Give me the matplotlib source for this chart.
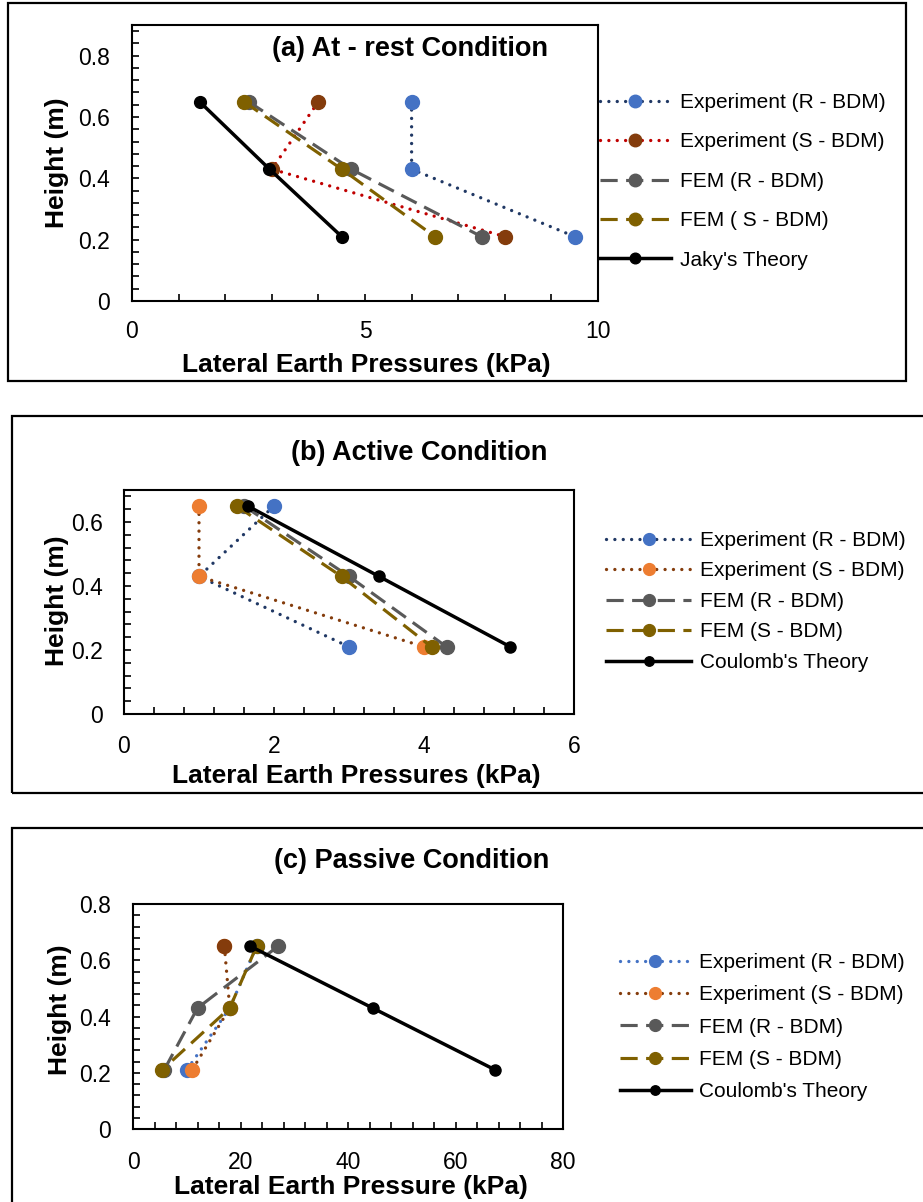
import numpy as np
import matplotlib.pyplot as plt
from matplotlib.patches import Rectangle
from matplotlib.ticker import MultipleLocator

plt.rcParams['font.family'] = ['Liberation Sans', 'DejaVu Sans']

# heights of the three measuring points (m)
height = [0.65, 0.43, 0.21]

# (a) at-rest condition, kPa
a_exp_r = [6.0, 6.0, 9.5]
a_exp_s = [4.0, 3.0, 8.0]
a_fem_r = [2.5, 4.7, 7.5]
a_fem_s = [2.4, 4.5, 6.5]
a_jaky = [1.45, 2.95, 4.5]

# (b) active condition, kPa
b_exp_r = [2.0, 1.0, 3.0]
b_exp_s = [1.0, 1.0, 4.0]
b_fem_r = [1.6, 3.0, 4.3]
b_fem_s = [1.5, 2.9, 4.1]
b_coulomb = [1.65, 3.4, 5.15]

# (c) passive condition, kPa
c_exp_r = [23.0, 18.0, 10.0]
c_exp_s = [17.0, 18.0, 11.0]
c_fem_r = [27.0, 12.0, 5.8]
c_fem_s = [23.0, 18.0, 5.4]
c_coulomb = [21.8, 44.6, 67.4]

W, H = 923, 1202
fig = plt.figure(figsize=(W / 100, H / 100), dpi=100)

BLUE = '#4472C4'
NAVY = '#203864'
RED = '#C00000'
BROWN = '#843C0C'
ORANGE = '#ED7D31'
GRAY = '#595959'
OLIVE = '#7F6000'

DOT = (0, (0.01, 2.5))
DASH = (0, (5.5, 2.7))


def axes_px(x0, y0, x1, y1):
    return fig.add_axes([x0 / W, 1 - y1 / H, (x1 - x0) / W, (y1 - y0) / H])


def frame_px(x0, y0, x1, y1):
    fig.add_artist(Rectangle((x0 / W, 1 - y1 / H), (x1 - x0) / W, (y1 - y0) / H,
                             transform=fig.transFigure, fill=False,
                             lw=1.6, ec='black'))


def style(ax, xmax, xmaj, ymax, xl, yl, label_xy, ylabel_xy, xlabel, box):
    x0, y0, x1, y1 = box
    ax.set_xlim(0, xmax)
    ax.set_ylim(0, ymax)
    ax.xaxis.set_major_locator(MultipleLocator(xmaj))
    ax.xaxis.set_minor_locator(MultipleLocator(xmaj / 5))
    ax.yaxis.set_major_locator(MultipleLocator(0.2))
    ax.yaxis.set_minor_locator(MultipleLocator(0.04))
    ax.tick_params(which='both', direction='in', length=5, width=1.2,
                   top=False, right=False, labelsize=16.5)
    ax.tick_params(axis='x', pad=xl)
    ax.tick_params(axis='y', pad=yl)
    ax.yaxis.set_major_formatter(lambda v, p: '0' if abs(v) < 1e-9 else f'{v:.1f}')
    for s in ax.spines.values():
        s.set_linewidth(1.5)
    ax.set_xlabel(xlabel, fontsize=19, fontweight='bold')
    ax.set_ylabel('Height (m)', fontsize=19, fontweight='bold')
    lx, ly = label_xy
    ax.xaxis.set_label_coords((lx - x0) / (x1 - x0), (y1 - ly) / (y1 - y0))
    ax.xaxis.label.set_va('center')
    px, py = ylabel_xy
    ax.yaxis.set_label_coords((px - x0) / (x1 - x0), (y1 - py) / (y1 - y0))
    ax.yaxis.label.set_va('center')


# ---------------- (a) ----------------
frame_px(8, 3, 906, 381)
box_a = (132, 25, 598, 301)
ax = axes_px(*box_a)
ax.plot(a_exp_r, height, ls=DOT, lw=2.4, color=NAVY, marker='o', ms=10,
        mfc=BLUE, mec=BLUE, dash_capstyle='round', label='Experiment (R - BDM)')
ax.plot(a_exp_s, height, ls=DOT, lw=2.4, color=RED, marker='o', ms=10,
        mfc=BROWN, mec=BROWN, dash_capstyle='round', label='Experiment (S - BDM)')
ax.plot(a_fem_r, height, ls=DASH, lw=2.25, color=GRAY, marker='o', ms=10,
        label='FEM (R - BDM)')
ax.plot(a_fem_s, height, ls=DASH, lw=2.25, color=OLIVE, marker='o', ms=10,
        label='FEM ( S - BDM)')
ax.plot(a_jaky, height, ls='-', lw=2.5, color='black', marker='o', ms=8.5,
        label="Jaky's Theory")
style(ax, 10, 5, 0.9, 14, 16, (366, 365), (57, 163),
      'Lateral Earth Pressures (kPa)', box_a)
ax.text((410 - 132) / 466, (301 - 49) / 276, '(a) At - rest Condition',
        transform=ax.transAxes, ha='center', va='center', fontsize=19.5,
        fontweight='bold')
ax.legend(loc='upper left', bbox_to_anchor=(600 / W, 1 - 93 / H),
          bbox_transform=fig.transFigure, frameon=False, fontsize=15,
          borderpad=0, borderaxespad=0, handlelength=3.4, handletextpad=0.45,
          labelspacing=0.98, markerscale=0.9)

# ---------------- (b) ----------------
frame_px(12, 416, 940, 793)
box_b = (124, 490, 574, 714)
ax = axes_px(*box_b)
ax.plot(b_exp_r, height, ls=DOT, lw=2.4, color=NAVY, marker='o', ms=10,
        mfc=BLUE, mec=BLUE, dash_capstyle='round', label='Experiment (R - BDM)')
ax.plot(b_exp_s, height, ls=DOT, lw=2.4, color=BROWN, marker='o', ms=10,
        mfc=ORANGE, mec=ORANGE, dash_capstyle='round', label='Experiment (S - BDM)')
ax.plot(b_fem_r, height, ls=DASH, lw=2.25, color=GRAY, marker='o', ms=10,
        label='FEM (R - BDM)')
ax.plot(b_fem_s, height, ls=DASH, lw=2.25, color=OLIVE, marker='o', ms=10,
        label='FEM (S - BDM)')
ax.plot(b_coulomb, height, ls='-', lw=2.5, color='black', marker='o', ms=8,
        label="Coulomb's Theory")
style(ax, 6, 2, 0.7, 15, 15, (356, 776), (57, 601),
      'Lateral Earth Pressures (kPa)', box_b)
fig.text(419 / W, 1 - 453 / H, '(b) Active Condition', ha='center', va='center',
         fontsize=19.5, fontweight='bold')
ax.legend(loc='upper left', bbox_to_anchor=(606 / W, 1 - 531 / H),
          bbox_transform=fig.transFigure, frameon=False, fontsize=15,
          borderpad=0, borderaxespad=0, handlelength=4.1, handletextpad=0.4,
          labelspacing=0.55, markerscale=0.85)

# ---------------- (c) ----------------
frame_px(12, 828, 940, 1215)
box_c = (133, 904, 563, 1129)
ax = axes_px(*box_c)
ax.plot(c_exp_r, height, ls=DOT, lw=2.4, color=BLUE, marker='o', ms=10,
        mfc=BLUE, mec=BLUE, dash_capstyle='round', label='Experiment (R - BDM)')
ax.plot(c_exp_s, height, ls=DOT, lw=2.4, color=BROWN, marker='o', ms=10,
        mfc=ORANGE, mec=ORANGE, dash_capstyle='round', label='Experiment (S - BDM)')
ax.plot(c_exp_s[:1], height[:1], ls='none', marker='o', ms=10, color=BROWN)
ax.plot(c_fem_r, height, ls=DASH, lw=2.25, color=GRAY, marker='o', ms=10,
        label='FEM (R - BDM)')
ax.plot(c_fem_s, height, ls=DASH, lw=2.25, color=OLIVE, marker='o', ms=10,
        label='FEM (S - BDM)')
ax.plot(c_coulomb, height, ls='-', lw=2.5, color='black', marker='o', ms=8,
        label="Coulomb's Theory")
style(ax, 80, 20, 0.8, 16, 16, (351, 1187), (60, 1010),
      'Lateral Earth Pressure (kPa)', box_c)
fig.text(412 / W, 1 - 861 / H, '(c) Passive Condition', ha='center', va='center',
         fontsize=19.5, fontweight='bold')
ax.legend(loc='upper left', bbox_to_anchor=(620 / W, 1 - 953 / H),
          bbox_transform=fig.transFigure, frameon=False, fontsize=15,
          borderpad=0, borderaxespad=0, handlelength=3.4, handletextpad=0.4,
          labelspacing=0.64, markerscale=0.85)

fig.savefig('out.png', dpi=100)
